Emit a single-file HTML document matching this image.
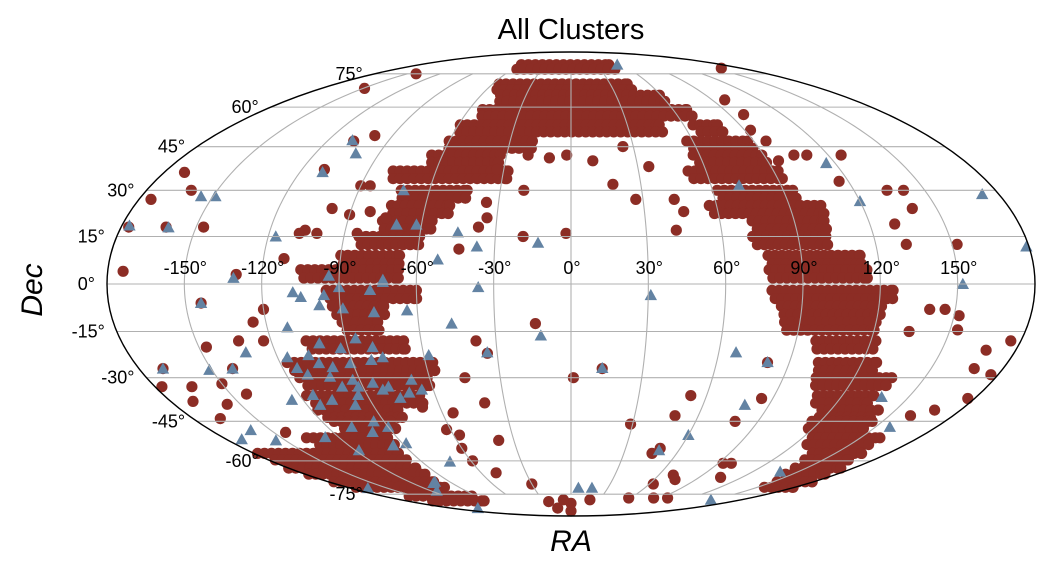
<!DOCTYPE html>
<html><head><meta charset="utf-8">
<style>
html,body{margin:0;padding:0;background:#fff;}
svg{display:block;font-family:"Liberation Sans","DejaVu Sans",sans-serif;}
</style></head>
<body>
<svg id="chart" width="1059" height="573" viewBox="0 0 1059 573" xmlns="http://www.w3.org/2000/svg">
  <text x="571" y="39" font-size="29" text-anchor="middle" fill="#000">All Clusters</text>
  <text x="0" y="0" font-size="30" font-style="italic" text-anchor="middle" transform="translate(42,290) rotate(-90)">Dec</text>
  <text x="571" y="551" font-size="30" font-style="italic" text-anchor="middle">RA</text>
  <g id="marks"></g>
  <g id="grid"></g>
  <g id="labels"></g>
</svg>
<script>
// ---- data (RA, Dec in degrees) ----
const coreDec    = [80,70,65,59,53,53,47,47,42,42,36.5,36.5,30,30,25,25,20,20,15,15,9,9,4.5,4.5,-2,-2,-7,-7,-12,-12,-18,-18,-25,-25,-30,-30,-36,-36,-41,-41,-45,-45,-51,-51,-57,-57,-63,-63,-69,-69,-76];
const coreRaFrom = [-59,-55,-47,-52,-59,65,-60,57,-65,57,-79,52,-72,62,-74,57,-76,73,-84,72,-90,77,-105,77,-95,78,-93,82,-90,84,-106,98,-117,102,-115,104,-117,109,-117,116,-114,116,-137,125,-178,137,-180,143,-176,153,-155];
const coreRaTo   = [45,43,59,68,47,78,-19,87,-33,89,-28,92,-44,94,-50,103,-56,102,-60,101,-67,113,-67,115,-60,125,-73,121,-76,120,-67,122,-57,126,-61,136,-67,134,-80,142,-87,145,-95,160,-98,165,-99,172,-102,179,-95];

const clusterRa  = [-174,-175,-171,-161,-162,-177,-147,-149,-142,-107,-99,-110,-90,-86,-98,-90,-82,-75,-106,-108,-101,-85,-20,-19,-2,-10,-2,-35,-34,-37,-44,-20,-33,
  159,98,98,93,96,95,104,110,126,116,134,141,140,130,132,152,18,27,43,42,46,25,10,35,
  1,85,53,49,29,79,49,46,0,20,58,83,97,63,70,75,93,98,105,168,177,176,168,177,140,146,152,153,134,168,160,13,81,
  -144,-170,-177,-141,-133,-123,-147,-164,-150,-170,-156,-143,-167,-144,-14,-38,-34,-45,-39,-55,-57,-38,-59,-25,-20,-8,0,-60,-50,-30,-120,-125,-130,-112,-68,-62];
const clusterDec = [4,27,36,30,18,18,18,68,75,47,49,37,31.5,31.5,24,22,23,21,17,16,16,16,30,15,16,41,42,26,21,18,11,42,37,
  78,63,57,51,47,40,42,42,42,33,30,30,24,19,12.5,12.5,32,27,27,17,23,45,40,38,
  -30,-37,-36,-43,-46,-45,-55,-57,-80,-78,-77,-77,-77,-70,-66,-68,-61,-61,-67,-27,-29,-18,-21,-37,-8,-8,-10,-14.5,-15,-41,-43,-27,-25,
  -6,-27,-33,-27,-18,-18,-20,-33,-32,-38,-39,-35.5,-44,-49,-12.5,-18,-22,-30,-38.5,-42,-50,-52,-60,-79,-83,-78,-85,-55,-65,-70,-8,-12,3,8,-40,-48];

const triRa  = [-112,-101,-86,-80,-77,-93,-107,-116,-114,-104,-99,-91,-82,-111,-102,-93,-85,-79,-68,-65,-71,-76,-82,-92,-99,-114,-125,-114,-107,-98,-94,-95,-100,-90,-108,-127,-118,-96,-88,-58,-64,-77,-89,-98,-105,-96,-78,-73,-90,-108,-166,-101,
  -108,-101,-110,-71,-70,-62,-94,-73,-52,-45,-37,-117,-155,-149,-161,-177,-131,
  55,116,120,72,173,179,152,31,13,67,81,79,60,49,6,17,148,138,138,157,-13,-47,-12,-34,-36,-73,-160,-172,-155,-151,-141,-132,-144,-170,-140,-104,-115];
const triDec = [-13.7,-18.8,-17.2,-20,-23.3,-20.4,-22.6,-23.3,-26.8,-25.2,-26.5,-25.2,-24.2,-29,-29.7,-30.7,-31.7,-33,-30.7,-34,-35,-36.8,-34,-33,-33,-35.8,-37.5,-39.2,-37.5,-39.2,-35.8,-45,-48.9,-47,-47,-50.8,-55.8,-53.9,-53.1,-22.6,-8.3,-8.9,-7.7,-6.7,-4.1,-3.5,-1.9,0.6,-1,-2.6,-72,-69,
  47.3,42.6,36.1,30,18.8,18.8,2.6,1.3,7.7,16.3,11.8,15,28,28,17.9,18.5,1.9,
  80,39.2,26.4,31.6,28.7,11.8,0,-3.5,-26.8,-21.7,-24.9,-39.2,-50,-55.8,-71.8,-71.8,-78,-64.5,-36.5,-47,13,-12.5,-16.3,-21.7,-1,-60.3,-48.2,-51.6,-52,-27.4,-27,-21.7,-6,-27,-83,-69.6,-73.3];

const latTicks = [75,60,45,30,15,0,-15,-30,-45,-60,-75];
const lonTicks = [-150,-120,-90,-60,-30,0,30,60,90,120,150];

// ---- projection (Mollweide) ----
const CX=571, CY=284, AX=464, AY=232;
function theta(dec){
  const phi=dec*Math.PI/180;
  if(Math.abs(Math.abs(dec)-90)<1e-6) return Math.sign(dec)*Math.PI/2;
  let t=phi;
  for(let i=0;i<50;i++){
    const f=2*t+Math.sin(2*t)-Math.PI*Math.sin(phi);
    const d=2+2*Math.cos(2*t);
    if(Math.abs(d)<1e-9) break;
    t-=f/d;
  }
  return t;
}
function px(ra,dec){ const t=theta(dec); return CX+AX*(ra/180)*Math.cos(t); }
function py(dec){ return CY-AY*Math.sin(theta(dec)); }

const NS="http://www.w3.org/2000/svg";
const marks=document.getElementById('marks');
const grid=document.getElementById('grid');
const labels=document.getElementById('labels');
const RED="#8c2d25", BLUE="#6383a3";

function dot(ra,dec,name){
  const c=document.createElementNS(NS,'circle');
  c.setAttribute('cx',px(ra,dec).toFixed(1));
  c.setAttribute('cy',py(dec).toFixed(1));
  c.setAttribute('r',5.6);
  c.setAttribute('fill',RED);
  
  
  marks.appendChild(c);
}
function tri(ra,dec){
  const x=px(ra,dec), y=py(dec), s=6.2;
  const p=document.createElementNS(NS,'polygon');
  p.setAttribute('points',`${x},${y-s} ${x-s},${y+s*0.8} ${x+s},${y+s*0.8}`);
  p.setAttribute('fill',BLUE);
  
  
  marks.appendChild(p);
}

// dense core (rows of dots between RA bounds)
for(let i=0;i<coreDec.length;i++){
  const subs=[coreDec[i], coreDec[i]-2.6];
  subs.forEach((d,j)=>{
    const k=2.578*Math.cos(theta(d));
    const step=7/k;
    const a=coreRaFrom[i]+(j? step/2:0), b=coreRaTo[i];
    for(let ra=a; ra<b; ra+=step){
      if(Math.abs(ra)<=180) dot(ra,d,'cluster-dot-core');
    }
    if(Math.abs(b)<=180) dot(b,d,'cluster-dot-core');
  });
}
for(let i=0;i<clusterRa.length;i++) dot(clusterRa[i],clusterDec[i],'cluster-dot');
for(let i=0;i<triRa.length;i++) tri(triRa[i],triDec[i]);

// grid
function path(d,name,stroke,w){
  const p=document.createElementNS(NS,'path');
  p.setAttribute('d',d); p.setAttribute('fill','none');
  p.setAttribute('stroke',stroke); p.setAttribute('stroke-width',w);
  
  
  return p;
}
latTicks.forEach(lat=>{
  const y=py(lat);
  grid.appendChild(path(`M${px(-180,lat)},${y} L${px(180,lat)},${y}`,'parallel-gridline','#b0b0b0',1.1));
});
lonTicks.forEach(lon=>{
  let d='';
  for(let lat=-75;lat<=75.01;lat+=1.5){ d+=(d?'L':'M')+px(lon,lat).toFixed(2)+','+py(lat).toFixed(2); }
  grid.appendChild(path(d,'meridian-gridline','#b0b0b0',1.1));
});
const border=document.createElementNS(NS,'ellipse');
border.setAttribute('cx',CX); border.setAttribute('cy',CY);
border.setAttribute('rx',AX); border.setAttribute('ry',AY);
border.setAttribute('fill','none'); border.setAttribute('stroke','#000'); border.setAttribute('stroke-width',1.4);


grid.appendChild(border);

// labels
latTicks.forEach(lat=>{
  const t=document.createElementNS(NS,'text');
  t.setAttribute('x',(px(-180,lat)-12).toFixed(1));
  t.setAttribute('y',(py(lat)+6).toFixed(1));
  t.setAttribute('font-size','18'); t.setAttribute('text-anchor','end');
  t.textContent=lat+'°';
  
  
  labels.appendChild(t);
});
lonTicks.forEach(lon=>{
  const t=document.createElementNS(NS,'text');
  t.setAttribute('x',(px(lon,0)+1).toFixed(1));
  t.setAttribute('y','274');
  t.setAttribute('font-size','18'); t.setAttribute('text-anchor','middle');
  t.textContent=lon+'°';
  
  
  labels.appendChild(t);
});
</script>
</body></html>
